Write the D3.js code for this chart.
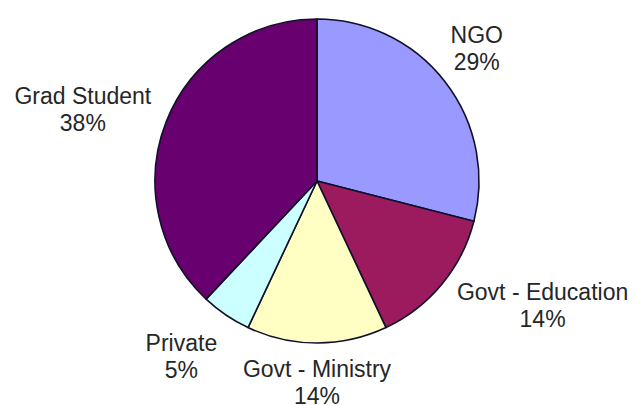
<!DOCTYPE html>
<html>
<head>
<meta charset="utf-8">
<script src="https://cdn.jsdelivr.net/npm/d3@7"></script>
<style>
  html, body { margin: 0; padding: 0; background: #fff; }
  #chart { width: 638px; height: 405px; }
</style>
</head>
<body>
<div id="chart"></div>
<script>
const WIDTH = 638;
const HEIGHT = 405;

// slices, clockwise from 12 o'clock
const categories = ["NGO", "Govt - Education", "Govt - Ministry", "Private", "Grad Student"];
const percents = [29, 14, 14, 5, 38];
const colors = ["#9999ff", "#9b1b5e", "#ffffc4", "#ccffff", "#680070"];

// label nudges (px) off the label ring
const labelNudge = [[-7, -4], [63, -10], [0, -10], [-17, 0], [-38, 6]];

const CX = 317;
const CY = 181;
const R = 162;
const LABEL_R = 211;

const svg = d3.select("#chart").append("svg")
  .attr("width", WIDTH).attr("height", HEIGHT);

const pie = d3.pie().sort(null).value(d => d.value);
const arc = d3.arc().innerRadius(0).outerRadius(R);
const labelArc = d3.arc().innerRadius(LABEL_R).outerRadius(LABEL_R);

const data = categories.map((c, i) => ({ name: c, value: percents[i], color: colors[i], nudge: labelNudge[i] }));
const slices = pie(data);

const g = svg.append("g").attr("transform", `translate(${CX},${CY})`);

g.selectAll("path.slice").data(slices).enter()
  .append("path")
  .attr("class", "slice")
  .attr("d", arc)
  .attr("fill", d => d.data.color)
  .attr("stroke", "#10102a")
  .attr("stroke-width", 1.6)
  .attr("stroke-linejoin", "round");

const labels = g.selectAll("text.label").data(slices).enter()
  .append("text")
  .attr("class", "label")
  .attr("text-anchor", "middle")
  .attr("font-family", "'Liberation Sans', Arial, sans-serif")
  .attr("font-size", 23)
  .attr("fill", "#262626")
  .attr("transform", d => {
    const [x, y] = labelArc.centroid(d);
    return `translate(${x + d.data.nudge[0]},${y + d.data.nudge[1]})`;
  });

labels.append("tspan").attr("x", 0).attr("y", -5).text(d => d.data.name);
labels.append("tspan").attr("x", 0).attr("y", 22).text(d => d.data.value + "%");
</script>
</body>
</html>
